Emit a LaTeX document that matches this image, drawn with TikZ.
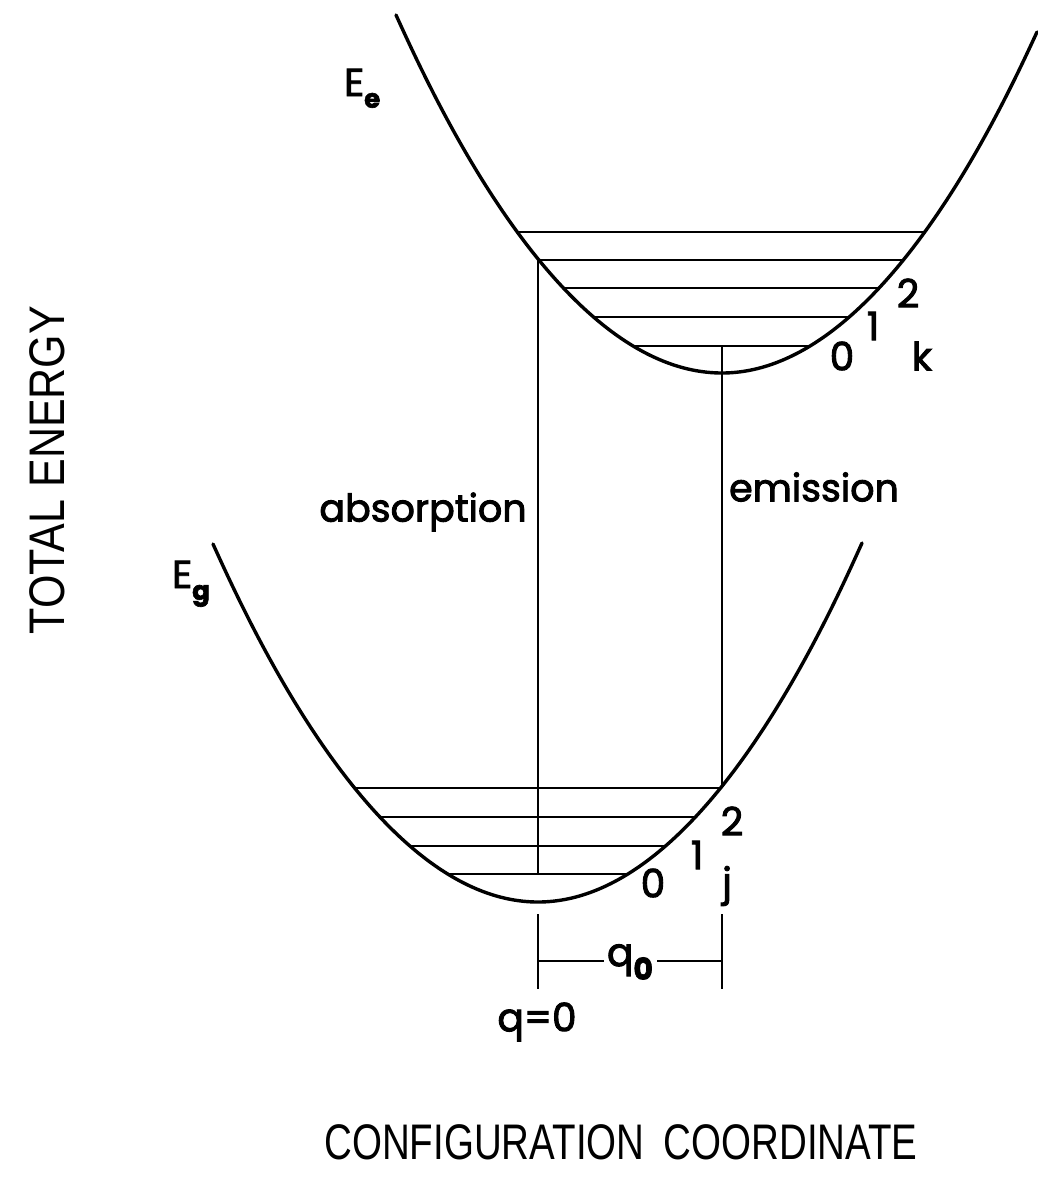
\documentclass[tikz,border=0pt]{standalone}
\usepackage{fontspec}
\newfontfamily\labfont[FakeBold=2.4]{Poppins}
\newfontfamily\axfont{Liberation Sans}
\begin{document}
\begin{tikzpicture}[x=1pt,y=-1pt,
  curve/.style={line width=3.4pt,line cap=round},
  level/.style={line width=1.5pt},
  trans/.style={line width=1.5pt},
  lab/.style={inner sep=0pt,font=\labfont\fontsize{39}{39}\selectfont},
  word/.style={inner sep=0pt,font=\labfont\fontsize{38}{38}\selectfont},
  ax/.style={inner sep=0pt,font=\axfont\fontsize{50}{50}\selectfont}]
\useasboundingbox (0,0) rectangle (1037,1186);
% ground-state parabola
\coordinate (gL) at (213,544);
\coordinate (gV) at (538,902);
\coordinate (gR) at (862,543);
\draw[curve] (gL) parabola bend (gV) (gR);
% excited-state parabola
\coordinate (eL) at (396,15);
\coordinate (eV) at (722,373);
\coordinate (eR) at (1037,32);
\draw[curve] (eL) parabola bend (eV) (eR);
% vibrational levels, ground
\foreach \y/\xa/\xb in {874/447.1/628.9, 846/409.5/666.5, 817/379.7/696.3, 788/354.6/721.4}
  \draw[level] (\xa,\y) -- (\xb,\y);
% vibrational levels, excited
\foreach \y/\xa/\xb in {346/632.5/810.6, 317/593.1/849.6, 288/563.2/879.3, 260/538.9/903.3, 232/517.4/924.5}
  \draw[level] (\xa,\y) -- (\xb,\y);
% transitions
\coordinate (absB) at (538,874);
\coordinate (absT) at (538,260);
\coordinate (emT) at (722,346);
\coordinate (emB) at (722,788);
\draw[trans] (absB) -- (absT);
\draw[trans] (emT) -- (emB);
% dimension q0
\coordinate (t1a) at (538,914); \coordinate (t1b) at (538,989);
\coordinate (t2a) at (722,914); \coordinate (t2b) at (722,989);
\draw[trans] (t1a) -- (t1b);
\draw[trans] (t2a) -- (t2b);
\node[lab] (q0) at (630,962) {q\raisebox{-0.35em}{\fontsize{30}{30}\selectfont\bfseries 0}};
\coordinate (d1) at (538,961); \coordinate (d2) at (722,961);
\coordinate (d1e) at (604,961); \coordinate (d2s) at (657,961);
\draw[trans] (d1) -- (d1e);
\draw[trans] (d2s) -- (d2);
\node[lab] (qz) at (537,1022) {q=0};
% level labels
\node[lab] (u0) at (842,356) {0};
\node[lab] (u1) at (873,326) {1};
\node[lab] (u2) at (908,293) {2};
\node[lab] (uk) at (922,356) {k};
\node[lab] (l0) at (653,883) {0};
\node[lab] (l1) at (697,855) {1};
\node[lab] (l2) at (732,821) {2};
\node[lab] (lj) at (727,886) {j};
% curve labels
\node[lab,anchor=base west] (Ee) at (344,96) {E\raisebox{-0.3em}{\fontsize{26}{26}\selectfont\bfseries e}};
\node[lab,anchor=base west] (Eg) at (172,588) {E\raisebox{-0.3em}{\fontsize{26}{26}\selectfont\bfseries g}};
% transition labels
\node[word] (abs) at (423,512) {absorption};
\node[word] (em) at (814,487) {emission};
% axes
\node[ax,rotate=90] (yl) at (47,470) {\scalebox{0.86}[1]{TOTAL ENERGY}};
\node[ax] (xl) at (621,1142) {\scalebox{0.77}[1]{CONFIGURATION\hspace{0.5em}COORDINATE}};
\end{tikzpicture}
\end{document}
